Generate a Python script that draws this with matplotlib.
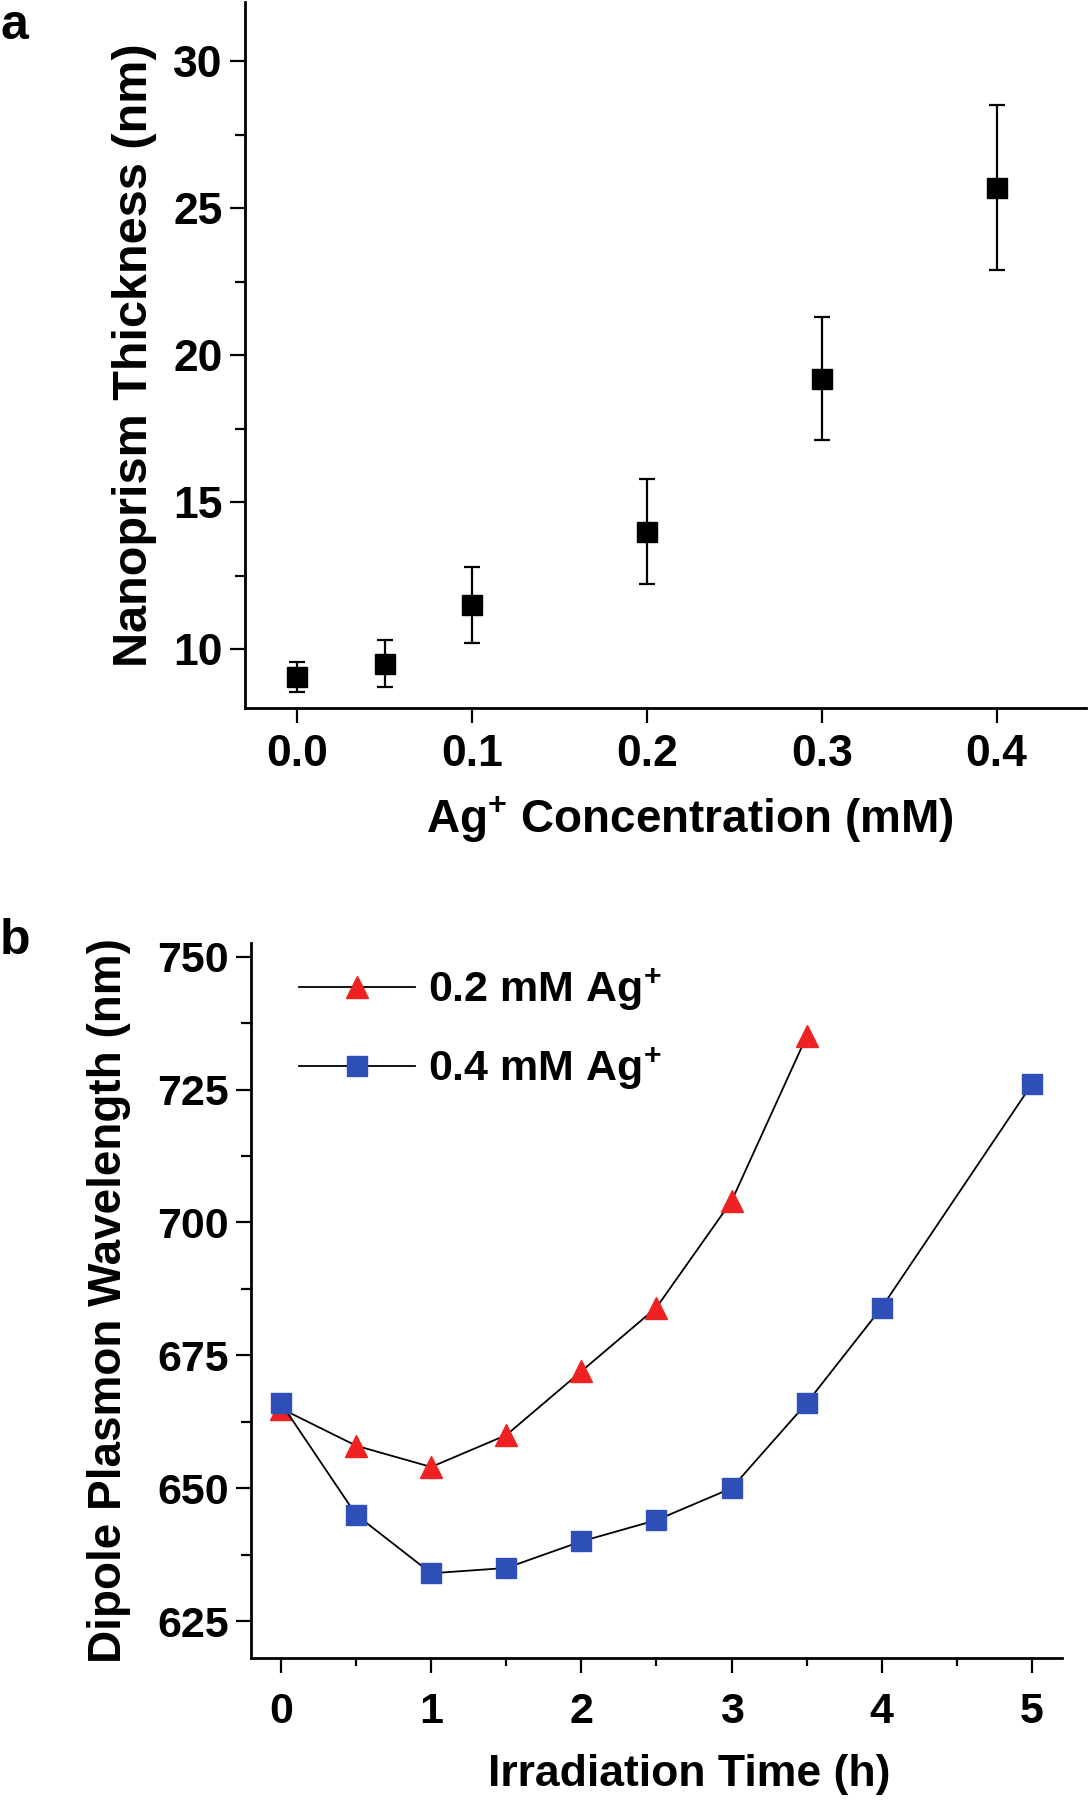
import matplotlib
matplotlib.use("Agg")
import matplotlib.pyplot as plt
from matplotlib.ticker import MultipleLocator

plt.rcParams['font.family'] = ['Liberation Sans', 'DejaVu Sans']
plt.rcParams['font.weight'] = 'bold'
plt.rcParams['mathtext.fontset'] = 'custom'
plt.rcParams['mathtext.bf'] = 'Liberation Sans:bold'
plt.rcParams['mathtext.rm'] = 'Liberation Sans:bold'
plt.rcParams['mathtext.default'] = 'bf'

# panel a: thickness vs Ag+ concentration
conc = [0.0, 0.05, 0.1, 0.2, 0.3, 0.4]
thickness = [9.05, 9.5, 11.5, 14.0, 19.2, 25.7]
thickness_err = [0.5, 0.8, 1.3, 1.8, 2.1, 2.8]

# panel b: plasmon wavelength vs irradiation time
time_02 = [0, 0.5, 1, 1.5, 2, 2.5, 3, 3.5]
wl_02 = [665, 658, 654, 660, 672, 684, 704, 735]
time_04 = [0, 0.5, 1, 1.5, 2, 2.5, 3, 3.5, 4, 5]
wl_04 = [666, 645, 634, 635, 640, 644, 650, 666, 684, 726]
labels_b = ['0.2 mM Ag$^{+}$', '0.4 mM Ag$^{+}$']

RED = '#ee2222'
BLUE = '#2f4fb8'

fig = plt.figure(figsize=(10.88, 18.0), dpi=100)


def style_axes(ax, labelsize):
    for side in ('top', 'right'):
        ax.spines[side].set_visible(False)
    for side in ('left', 'bottom'):
        ax.spines[side].set_linewidth(2.0)
    ax.tick_params(which='major', direction='out', length=11, width=1.6, labelsize=labelsize)
    ax.tick_params(which='minor', direction='out', length=7, width=1.6)


# ---- panel a ----
ax1 = fig.add_axes([0.2252, 0.6067, 0.7728, 0.3920])
ax1.errorbar(conc, thickness, yerr=thickness_err, fmt='s', color='black', ms=15,
             ecolor='black', elinewidth=1.6, capsize=6, capthick=1.6)
ax1.set_xlim(-0.03, 0.451)
ax1.set_ylim(8, 32)
ax1.yaxis.set_minor_locator(MultipleLocator(2.5))
ax1.set_xticks([0, 0.1, 0.2, 0.3, 0.4])
ax1.set_xticklabels(['0.0', '0.1', '0.2', '0.3', '0.4'])
ax1.set_yticks([10, 15, 20, 25, 30])
style_axes(ax1, 32)
ax1.tick_params(axis='x', pad=8)
ax1.tick_params(axis='y', pad=5)
ax1.set_xlabel('Ag$^{+}$ Concentration (mM)', fontsize=33, fontweight='bold')
ax1.xaxis.set_label_coords(0.529, -0.122)
ax1.set_ylabel('Nanoprism Thickness (nm)', fontsize=35, fontweight='bold', labelpad=12)
fig.text(0.0, 0.9985, 'a', fontsize=36, fontweight='bold', ha='left', va='top')

# ---- panel b ----
ax2 = fig.add_axes([0.2307, 0.0787, 0.7453, 0.3972])
ax2.plot(time_02, wl_02, color='black', lw=1.3, marker='^', ms=16,
         mfc=RED, mec=RED, label=labels_b[0])
ax2.plot(time_04, wl_04, color='black', lw=1.3, marker='s', ms=14,
         mfc=BLUE, mec=BLUE, label=labels_b[1])
ax2.set_xlim(-0.2, 5.2)
ax2.set_ylim(618, 752.5)
ax2.set_xticks([0, 1, 2, 3, 4, 5])
ax2.xaxis.set_minor_locator(MultipleLocator(0.5))
ax2.set_yticks([625, 650, 675, 700, 725, 750])
ax2.yaxis.set_minor_locator(MultipleLocator(12.5))
style_axes(ax2, 31)
ax2.tick_params(axis='x', which='minor', length=6)
ax2.tick_params(axis='x', pad=13)
ax2.tick_params(axis='y', pad=5)
ax2.set_xlabel('Irradiation Time (h)', fontsize=32, fontweight='bold')
ax2.xaxis.set_label_coords(0.54, -0.134)
ax2.set_ylabel('Dipole Plasmon Wavelength (nm)', fontsize=33, fontweight='bold', labelpad=19)
ax2.legend(loc='upper left', bbox_to_anchor=(0.059, 0.968), frameon=False,
           fontsize=31, handlelength=2.7, handletextpad=0.3, labelspacing=0.75,
           borderpad=0, borderaxespad=0)
fig.text(0.0, 0.49, 'b', fontsize=36, fontweight='bold', ha='left', va='top')

fig.savefig('out.png', dpi=100)
